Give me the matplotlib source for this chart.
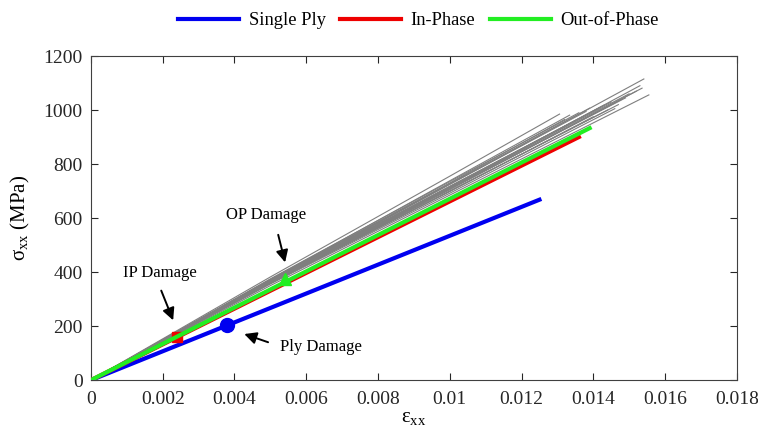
import matplotlib.pyplot as plt

plt.rcParams['font.family'] = ['Liberation Serif', 'DejaVu Serif']
plt.rcParams['mathtext.fontset'] = 'custom'
plt.rcParams['mathtext.rm'] = 'Liberation Serif'

# main response curves (strain, stress in MPa)
ply_strain = [0, 0.0125]
ply_stress = [0, 668]
ip_strain = [0, 0.0136]
ip_stress = [0, 900]
op_strain = [0, 0.0139]
op_stress = [0, 933]

# damage onset points
ply_dmg = (0.0038, 205)
ip_dmg = (0.0024, 160)
op_dmg = (0.0054, 375)

# gray scatter runs: points at strain 0, 0.005, 0.01 and the run's end
gray_mid = [0, 0.005, 0.01]
gray_runs = [
    (365, 725, 0.01541, 1115),
    (360, 705, 0.01536, 1081),
    (350, 685, 0.01555, 1056),
    (370, 728, 0.0139, 1007),
    (382, 755, 0.01306, 985),
    (372, 738, 0.01334, 981),
    (362, 712, 0.0148, 1040),
    (368, 718, 0.0145, 1030),
    (365, 715, 0.0142, 1010),
    (366, 715, 0.0150, 1060),
    (375, 735, 0.0136, 990),
    (360, 700, 0.0144, 1000),
    (358, 698, 0.0140, 975),
    (360, 700, 0.0147, 1020),
    (372, 730, 0.0132, 965),
    (362, 708, 0.0152, 1070),
    (370, 725, 0.0138, 995),
    (366, 716, 0.0143, 1018),
    (360, 712, 0.0135, 960),
    (364, 708, 0.0149, 1045),
    (356, 692, 0.0146, 1005),
    (364, 712, 0.0153, 1090),
]

fig = plt.figure(figsize=(7.58, 4.41), dpi=100)
ax = fig.add_axes([0.12, 0.138, 0.852, 0.735])

for s5, s10, xe, ye in gray_runs:
    ax.plot(gray_mid + [xe], [0, s5, s10, ye], color='#7f7f7f', lw=0.8, zorder=1)

ax.plot(ply_strain, ply_stress, color='#0000f0', lw=3, label='Single Ply', zorder=2)
ax.plot(ip_strain, ip_stress, color='#ee0000', lw=3, label='In-Phase', zorder=3)
ax.plot(op_strain, op_stress, color='#22ee22', lw=3, label='Out-of-Phase', zorder=4)

ax.plot(*ply_dmg, 'o', color='#0000f0', ms=10, zorder=5)
ax.plot(*ip_dmg, 's', color='#ee0000', ms=7, zorder=3.5)
ax.plot(*op_dmg, '^', color='#22ee22', ms=8, zorder=5)

arrow = dict(arrowstyle='-|>', color='black', lw=1.4, mutation_scale=18)
ax.text(0.00193, 396, 'IP Damage', ha='center', va='center', fontsize=12)
ax.annotate('', xy=(0.00232, 212), xytext=(0.00193, 341), arrowprops=arrow)
ax.text(0.00487, 611, 'OP Damage', ha='center', va='center', fontsize=12)
ax.annotate('', xy=(0.00543, 426), xytext=(0.0052, 548), arrowprops=arrow)
ax.text(0.0064, 122, 'Ply Damage', ha='center', va='center', fontsize=12)
ax.annotate('', xy=(0.0042, 174), xytext=(0.00501, 137), arrowprops=arrow)

ax.set_xlim(0, 0.018)
ax.set_ylim(0, 1200)
ax.set_xticks([0, 0.002, 0.004, 0.006, 0.008, 0.01, 0.012, 0.014, 0.016, 0.018])
ax.set_xticklabels(['0', '0.002', '0.004', '0.006', '0.008', '0.01', '0.012',
                    '0.014', '0.016', '0.018'])
ax.set_yticks(range(0, 1201, 200))
ax.tick_params(direction='in', top=True, right=True, labelsize=14,
               colors='#262626', length=5)
ax.tick_params(axis='x', pad=8)
ax.tick_params(axis='y', pad=6)
for sp in ax.spines.values():
    sp.set_color('#404040')

ax.set_xlabel(r'$\mathregular{ε_{xx}}$', fontsize=15, labelpad=0)
ax.set_ylabel(r'$\mathregular{σ_{xx}}$ (MPa)', fontsize=15, labelpad=8)

fig.legend(loc='upper center', bbox_to_anchor=(0.552, 1.01), ncol=3,
           frameon=False, fontsize=13.3, handlelength=3.3, columnspacing=0.8,
           handletextpad=0.5)

fig.savefig('out.png', dpi=100)
